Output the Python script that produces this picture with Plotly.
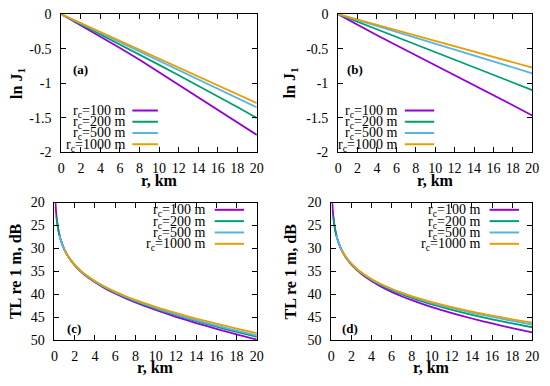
import plotly.graph_objects as go

W, H = 550, 386

# ---------------- data ----------------
r_lin = [0, 2, 4, 6, 8, 10, 12, 14, 16, 18, 20]
labels = ["r<sub>c</sub>=100 m", "r<sub>c</sub>=200 m", "r<sub>c</sub>=500 m", "r<sub>c</sub>=1000 m"]
colors = ["#9400d3", "#009e73", "#56b4e9", "#e69f00"]

lnJ_a = [
    [0, -0.16, -0.32, -0.49, -0.66, -0.84, -1.02, -1.20, -1.38, -1.565, -1.75],
    [0, -0.145, -0.29, -0.435, -0.585, -0.735, -0.885, -1.035, -1.19, -1.345, -1.505],
    [0, -0.135, -0.27, -0.405, -0.54, -0.675, -0.81, -0.945, -1.08, -1.215, -1.35],
    [0, -0.13, -0.26, -0.39, -0.52, -0.645, -0.775, -0.905, -1.035, -1.165, -1.29],
]
lnJ_b = [
    [0, -0.155, -0.305, -0.45, -0.595, -0.735, -0.875, -1.02, -1.17, -1.32, -1.47],
    [0, -0.11, -0.22, -0.33, -0.44, -0.55, -0.66, -0.77, -0.88, -0.99, -1.10],
    [0, -0.086, -0.171, -0.257, -0.343, -0.429, -0.514, -0.60, -0.686, -0.771, -0.857],
    [0, -0.077, -0.155, -0.232, -0.31, -0.387, -0.464, -0.542, -0.619, -0.697, -0.774],
]

r_tl = [0.1, 0.15, 0.2, 0.3, 0.4, 0.5, 0.6, 0.8, 1, 1.25, 1.5, 2, 2.5, 3, 4, 5, 6, 7, 8, 10, 12, 14, 16, 18, 20]
r_start = [0, 2, 5, 8]  # index into r_tl where each curve begins

TL_c = [
    [20.03, 21.81, 23.08, 24.87, 26.16, 27.16, 27.99, 29.31, 30.35, 31.40, 32.28, 33.70, 34.84, 35.81,
     37.40, 38.72, 39.85, 40.87, 41.79, 43.45, 44.93, 46.29, 47.56, 48.76, 49.91],
    [23.07, 24.86, 26.15, 27.15, 27.97, 29.28, 30.32, 31.36, 32.23, 33.64, 34.77, 35.72,
     37.28, 38.57, 39.67, 40.66, 41.55, 43.15, 44.57, 45.87, 47.08, 48.22, 49.31],
    [27.14, 27.96, 29.27, 30.30, 31.35, 32.21, 33.61, 34.73, 35.67,
     37.22, 38.49, 39.58, 40.55, 41.43, 43.00, 44.39, 45.66, 46.84, 47.95, 49.01],
    [30.28, 31.31, 32.17, 33.56, 34.67, 35.60,
     37.12, 38.37, 39.43, 40.38, 41.23, 42.75, 44.09, 45.31, 46.44, 47.50, 48.51],
]
TL_d = [
    [20.03, 21.80, 23.06, 24.85, 26.13, 27.12, 27.94, 29.24, 30.27, 31.30, 32.16, 33.54, 34.64, 35.57,
     37.12, 38.40, 39.48, 40.44, 41.30, 42.82, 44.13, 45.30, 46.38, 47.38, 48.31],
    [23.05, 24.83, 26.10, 27.10, 27.91, 29.20, 30.21, 31.23, 32.08, 33.43, 34.51, 35.40,
     36.88, 38.08, 39.10, 40.00, 40.80, 42.22, 43.42, 44.50, 45.47, 46.37, 47.21],
    [27.08, 27.89, 29.17, 30.18, 31.20, 32.03, 33.37, 34.43, 35.31,
     36.76, 37.93, 38.92, 39.78, 40.55, 41.90, 43.04, 44.05, 44.97, 45.82, 46.61],
    [30.16, 31.17, 32.00, 33.33, 34.38, 35.25,
     36.68, 37.83, 38.80, 39.65, 40.40, 41.71, 42.81, 43.78, 44.66, 45.47, 46.21],
]

x_ticks = [0, 2, 4, 6, 8, 10, 12, 14, 16, 18, 20]
lnJ_ticks = [0, -0.5, -1, -1.5, -2]
lnJ_ticklabels = ["0", "-0.5", "-1", "-1.5", "-2"]
TL_ticks = [20, 25, 30, 35, 40, 45, 50]

# ---------------- layout helpers ----------------
def px(x):
    return x / W

def py(y):
    return 1 - y / H

SERIF = "Liberation Serif, Times New Roman, serif"
TICKFONT = dict(family=SERIF, size=14, color="black")
TITLEFONT = dict(family=SERIF, size=16, color="black")

# panel boxes in pixels: (x0, x1, ytop, ybottom)
boxes = {
    "a": (58.5, 258, 7.5, 151),
    "b": (341, 539, 7.5, 151),
    "c": (51.5, 258, 203.5, 346.5),
    "d": (334, 539, 203.5, 346.5),
}

fig = go.Figure()

axis_ids = {"a": ("x", "y"), "b": ("x2", "y2"), "c": ("x3", "y3"), "d": ("x4", "y4")}

for key, series in (("a", lnJ_a), ("b", lnJ_b)):
    xa, ya = axis_ids[key]
    for i, vals in enumerate(series):
        fig.add_trace(go.Scatter(x=r_lin, y=vals, mode="lines", xaxis=xa, yaxis=ya,
                                 line=dict(color=colors[i], width=1.8), showlegend=False,
                                 hoverinfo="skip"))
for key, series in (("c", TL_c), ("d", TL_d)):
    xa, ya = axis_ids[key]
    for i, vals in enumerate(series):
        fig.add_trace(go.Scatter(x=r_tl[r_start[i]:], y=vals, mode="lines", xaxis=xa, yaxis=ya,
                                 line=dict(color=colors[i], width=1.8, shape="spline", smoothing=0.6),
                                 showlegend=False, hoverinfo="skip"))

common_axis = dict(showline=True, linecolor="black", linewidth=1, mirror="ticks",
                   ticks="inside", ticklen=5, tickcolor="black", tickwidth=1,
                   showgrid=False, zeroline=False, tickfont=TICKFONT)

layout = dict(width=W, height=H, margin=dict(l=0, r=0, t=0, b=0),
              paper_bgcolor="white", plot_bgcolor="white", showlegend=False)

for n, key in enumerate(["a", "b", "c", "d"], start=1):
    x0, x1, yt, yb = boxes[key]
    sfx = "" if n == 1 else str(n)
    layout["xaxis" + sfx] = dict(common_axis, domain=[px(x0), px(x1)], range=[0, 20],
                                 tickvals=x_ticks, anchor="y" + sfx, ticklabelstandoff=3)
    if key in ("a", "b"):
        layout["yaxis" + sfx] = dict(common_axis, domain=[py(yb), py(yt)], range=[-2, 0],
                                     tickvals=lnJ_ticks, ticktext=lnJ_ticklabels, anchor="x" + sfx,
                                     ticklabelstandoff=6)
    else:
        layout["yaxis" + sfx] = dict(common_axis, domain=[py(yb), py(yt)], range=[50, 20],
                                     tickvals=TL_ticks, anchor="x" + sfx, ticklabelstandoff=6)

fig.update_layout(**layout)

annotations = []
shapes = []

# axis titles
xtitle_y = {"a": 181, "b": 181, "c": 375, "d": 375}
ytitle_x = {"a": 13, "b": 292, "c": 12, "d": 292}
for key, (x0, x1, yt, yb) in boxes.items():
    annotations.append(dict(text="<b>r, km</b>", x=px((x0 + x1) / 2), y=py(xtitle_y[key]),
                            xref="paper", yref="paper", showarrow=False, font=TITLEFONT,
                            xanchor="center", yanchor="middle"))
    ytxt = "<b>ln J<sub>1</sub></b>" if key in ("a", "b") else "<b>TL re 1 m, dB</b>"
    annotations.append(dict(text=ytxt, x=px(ytitle_x[key]), y=py((yt + yb) / 2),
                            xref="paper", yref="paper", showarrow=False, font=TITLEFONT,
                            textangle=-90, xanchor="center", yanchor="middle"))

# panel labels
panel_pos = {"a": (78, 65), "b": (358, 65), "c": (71, 334), "d": (353, 334)}
for key, (lx, ly) in panel_pos.items():
    annotations.append(dict(text="<b>(%s)</b>" % key, x=px(lx), y=py(ly), xref="paper", yref="paper",
                            showarrow=False, font=dict(family=SERIF, size=13, color="black"),
                            xanchor="center", yanchor="middle"))

# legends (gnuplot style: text then line sample)
leg = {
    "a": (125, 131, 157, [107.7, 119.4, 131.1, 142.8]),
    "b": (403, 409, 439, [107.7, 119.4, 131.1, 142.8]),
    "c": (207.5, 215, 245, [211, 222.8, 234.6, 246.4]),
    "d": (488, 495.5, 525.5, [211, 222.8, 234.6, 246.4]),
}
for key, (tx, lx0, lx1, ys) in leg.items():
    for i, yy in enumerate(ys):
        annotations.append(dict(text=labels[i], x=px(tx), y=py(yy + 1), xref="paper", yref="paper",
                                showarrow=False, font=dict(family=SERIF, size=14, color="black"),
                                xanchor="right", yanchor="middle"))
        shapes.append(dict(type="line", xref="paper", yref="paper", x0=px(lx0), x1=px(lx1),
                           y0=py(yy), y1=py(yy), line=dict(color=colors[i], width=2)))

fig.update_layout(annotations=annotations, shapes=shapes)
fig.write_html("out.html", config={"displayModeBar": False},
               post_script="document.body.style.margin='0';document.body.style.padding='0';")
